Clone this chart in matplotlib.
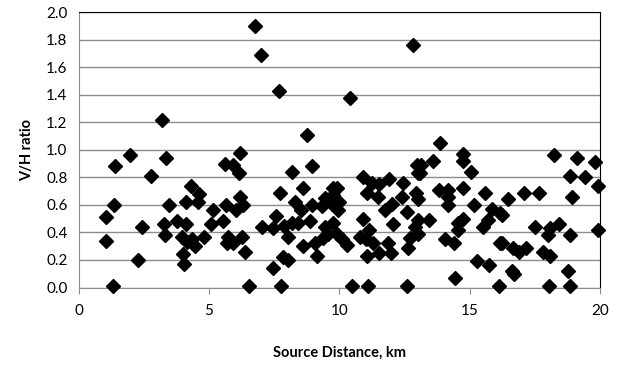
import matplotlib
matplotlib.use("Agg")
import matplotlib.pyplot as plt
import numpy as np

# Source distance (km) and V/H ratio
distance = [
    6.77, 6.99, 7.67, 3.21, 8.76, 12.81, 10.41, 13.85,
    1.97, 1.39, 2.77, 1.37, 1.03, 2.42, 1.03, 2.29, 1.30,
    3.35, 6.19, 5.61, 5.91, 6.16, 4.30, 4.63, 4.12, 4.59, 3.48, 6.19, 5.65,
    6.03, 6.29, 5.14, 5.55, 5.06, 3.76, 4.12, 3.27, 3.31, 3.95, 4.33, 4.14,
    4.82, 4.46, 5.74, 5.91, 6.25, 6.38, 4.01, 4.04, 5.68,
    8.94, 8.19, 8.62, 7.72, 8.30, 8.53, 8.94, 9.45, 9.32, 9.70, 9.77, 7.56,
    7.02, 7.46, 7.89, 8.17, 8.42, 8.87, 8.04, 9.45, 9.57, 9.38, 8.62, 9.06,
    9.13, 7.85, 8.04, 7.46, 6.52, 7.76,
    12.99, 13.01, 10.89, 11.24, 11.53, 11.91, 12.43, 11.05, 11.49, 9.90,
    9.77, 10.00, 9.96, 12.01, 11.75, 12.39, 12.58, 12.94, 10.92, 11.15,
    12.04, 9.77, 9.90, 10.09, 10.28, 10.79, 11.02, 11.28, 11.05, 11.53,
    11.88, 11.97, 12.71, 12.64, 12.90, 10.47, 11.11, 12.60,
    14.75, 14.75, 13.60, 13.13, 13.09, 15.05, 13.82, 14.18, 14.75, 15.58,
    13.03, 14.18, 14.18, 15.17, 15.84, 16.16, 15.71, 15.52, 14.75, 14.56,
    14.56, 13.03, 13.44, 13.03, 14.05, 14.41, 16.16, 15.27, 15.74, 14.43,
    16.14,
    18.23, 19.10, 19.80, 18.85, 19.42, 19.93, 16.48, 17.08, 17.67, 18.91,
    16.23, 17.50, 18.08, 18.44, 17.99, 18.85, 19.93, 16.23, 16.67, 16.90,
    17.16, 17.80, 18.08, 16.61, 16.70, 18.78, 18.05, 18.85,
]
vh_ratio = [
    1.90, 1.69, 1.43, 1.22, 1.11, 1.76, 1.38, 1.05,
    0.96, 0.88, 0.81, 0.60, 0.51, 0.44, 0.34, 0.20, 0.01,
    0.94, 0.98, 0.90, 0.89, 0.83, 0.74, 0.68, 0.62, 0.62, 0.60, 0.66, 0.60,
    0.56, 0.60, 0.56, 0.48, 0.46, 0.48, 0.46, 0.46, 0.38, 0.37, 0.35, 0.33,
    0.37, 0.30, 0.37, 0.32, 0.37, 0.26, 0.24, 0.17, 0.32,
    0.88, 0.84, 0.72, 0.69, 0.62, 0.56, 0.60, 0.65, 0.59, 0.61, 0.72, 0.52,
    0.44, 0.43, 0.45, 0.47, 0.47, 0.48, 0.37, 0.44, 0.39, 0.36, 0.30, 0.32,
    0.23, 0.22, 0.20, 0.14, 0.01, 0.01,
    0.89, 0.83, 0.80, 0.76, 0.75, 0.79, 0.76, 0.69, 0.66, 0.72,
    0.67, 0.62, 0.56, 0.61, 0.56, 0.66, 0.55, 0.69, 0.50, 0.42,
    0.46, 0.47, 0.39, 0.35, 0.31, 0.37, 0.35, 0.32, 0.23, 0.25,
    0.32, 0.25, 0.36, 0.29, 0.44, 0.01, 0.01, 0.01,
    0.97, 0.92, 0.92, 0.89, 0.83, 0.84, 0.71, 0.71, 0.72, 0.69,
    0.64, 0.66, 0.60, 0.60, 0.57, 0.54, 0.49, 0.44, 0.50, 0.47,
    0.42, 0.49, 0.49, 0.39, 0.35, 0.32, 0.32, 0.19, 0.16, 0.07,
    0.01,
    0.96, 0.94, 0.91, 0.81, 0.80, 0.74, 0.64, 0.69, 0.69, 0.66,
    0.53, 0.44, 0.43, 0.46, 0.38, 0.38, 0.42, 0.32, 0.29, 0.26,
    0.29, 0.26, 0.23, 0.12, 0.10, 0.12, 0.01, 0.01,
]

x_ticks = [0, 5, 10, 15, 20]
y_ticks = np.arange(0, 2.01, 0.2)

plt.rcParams["font.family"] = ["Lato", "DejaVu Sans"]

fig = plt.figure(figsize=(6.21, 3.65), dpi=100)
ax = fig.add_axes([0.1267, 0.2123, 0.8395, 0.754])

ax.plot(distance, vh_ratio, linestyle="none", marker="D",
        markersize=7.5, color="black", zorder=3, clip_on=False)

ax.set_xlim(0, 20)
ax.set_ylim(0, 2.0)
ax.set_xticks(x_ticks)
ax.set_yticks(y_ticks)
ax.set_yticklabels([f"{v:.1f}" for v in y_ticks])

# Excel-style horizontal gridlines
ax.yaxis.grid(True, color="#8c8c8c", linewidth=1.0)
ax.set_axisbelow(True)

for side in ("top", "right"):
    ax.spines[side].set_color("black")
for side in ("left", "bottom"):
    ax.spines[side].set_color("#8c8c8c")

ax.tick_params(axis="x", direction="out", length=4, color="#8c8c8c",
               labelsize=11, pad=8)
ax.tick_params(axis="y", length=0, labelsize=11, pad=8)

ax.set_xlabel("Source Distance, km", fontsize=10.5, fontweight="bold", labelpad=20)
ax.set_ylabel("V/H ratio", fontsize=10.5, fontweight="bold", labelpad=9)

fig.savefig("out.png", dpi=100)
